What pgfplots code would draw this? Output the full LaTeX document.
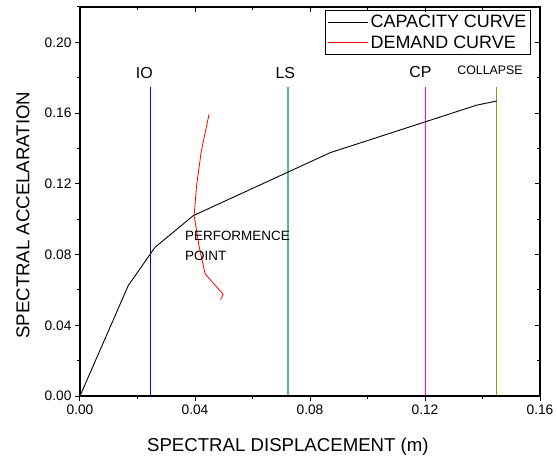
\documentclass[border=0pt]{standalone}
\usepackage{fontspec}
\setmainfont{Liberation Sans}
\usepackage{pgfplots}
\pgfplotsset{compat=1.18}

\definecolor{lscolor}{RGB}{80,180,180}
\definecolor{cpcolor}{RGB}{255,0,255}
\definecolor{clcolor}{RGB}{150,150,10}

\pgfplotsset{
  frame/.style={
    scale only axis, width=460bp, height=389bp,
    xmin=0, xmax=0.16, ymin=0, ymax=0.22,
    xtick={0,0.04,0.08,0.12,0.16},
    ytick={0,0.04,0.08,0.12,0.16,0.20},
    minor xtick={0.02,0.06,0.10,0.14},
    minor ytick={0.02,0.06,0.10,0.14,0.18,0.22},
    major tick length=5bp, minor tick length=3bp,
    axis line style={line width=1.2bp},
    every tick/.style={black, line width=1bp},
  }
}

\begin{document}
\begin{tikzpicture}
\begin{axis}[
  frame,
  xtick pos=left, ytick pos=left, tick align=outside,
  /pgf/number format/fixed,
  /pgf/number format/fixed zerofill,
  /pgf/number format/precision=2,
  /pgf/number format/assume math mode=true,
  ticklabel style={font=\fontsize{13.8}{16}\selectfont},
  label style={font=\fontsize{18.7}{22}\selectfont},
  xlabel={SPECTRAL DISPLACEMENT (m)},
  ylabel={SPECTRAL ACCELARATION},
  xlabel style={at={(axis description cs:0.452,0)}, anchor=base, yshift=-55bp},
  ylabel style={at={(axis description cs:-0.124,0.465)}, anchor=center},
  legend cell align=left,
  legend style={at={(axis description cs:0.98,0.992)}, anchor=north east,
    font=\fontsize{18}{21}\selectfont, draw=black, line width=0.8bp,
    inner xsep=2bp, inner ysep=2.5bp, row sep=2.5bp},
  legend image code/.code={\draw[#1, line width=1bp] (0bp,0bp) -- (40bp,0bp);},
]
% performance levels
\addplot[blue, line width=0.9bp, forget plot]
  coordinates {(0.0245,0) (0.0245,0.175)};
\addplot[lscolor, line width=2bp, forget plot]
  coordinates {(0.0722,0) (0.0722,0.175)};
\addplot[cpcolor, line width=1.5bp, forget plot]
  coordinates {(0.1202,0) (0.1202,0.175)};
\addplot[clcolor, line width=1.1bp, forget plot]
  coordinates {(0.1449,0) (0.1449,0.175)};
% capacity curve
\addplot[black, line width=0.9bp] coordinates {
  (0,0) (0.0168,0.0625) (0.0261,0.0841) (0.0394,0.1020)
  (0.0870,0.1376) (0.1200,0.1550) (0.1380,0.1645) (0.1449,0.1668)
};
\addlegendentry{CAPACITY CURVE}
% demand curve
\addplot[red, line width=0.8bp] coordinates {
  (0.0449,0.1594) (0.0422,0.1386) (0.0406,0.1198) (0.0397,0.1020)
  (0.0415,0.0841) (0.0435,0.0691) (0.0498,0.0575) (0.0489,0.0545)
};
\addlegendentry{DEMAND CURVE}

\node[font=\fontsize{16}{18}\selectfont, anchor=base] at (axis cs:0.0224,0.1793) {IO};
\node[font=\fontsize{16}{18}\selectfont, anchor=base] at (axis cs:0.0714,0.1793) {LS};
\node[font=\fontsize{16}{18}\selectfont, anchor=base] at (axis cs:0.1184,0.1803) {CP};
\node[font=\fontsize{12.4}{14}\selectfont, anchor=base] at (axis cs:0.1426,0.1818) {COLLAPSE};
\node[font=\fontsize{13.5}{16}\selectfont, anchor=base west, inner sep=0pt] at (axis cs:0.0365,0.0879) {PERFORMENCE};
\node[font=\fontsize{13.5}{16}\selectfont, anchor=base west, inner sep=0pt] at (axis cs:0.0365,0.0766) {POINT};
\end{axis}
% mirrored inward ticks on top and right
\begin{axis}[
  frame,
  xtick pos=right, ytick pos=right, tick align=inside,
  xticklabels={}, yticklabels={},
]
\end{axis}
\pgfresetboundingbox
\path[use as bounding box] ([shift={(-80bp,-63bp)}]current axis.south west)
  rectangle ([shift={(17bp,7bp)}]current axis.north east);
\end{tikzpicture}
\end{document}
